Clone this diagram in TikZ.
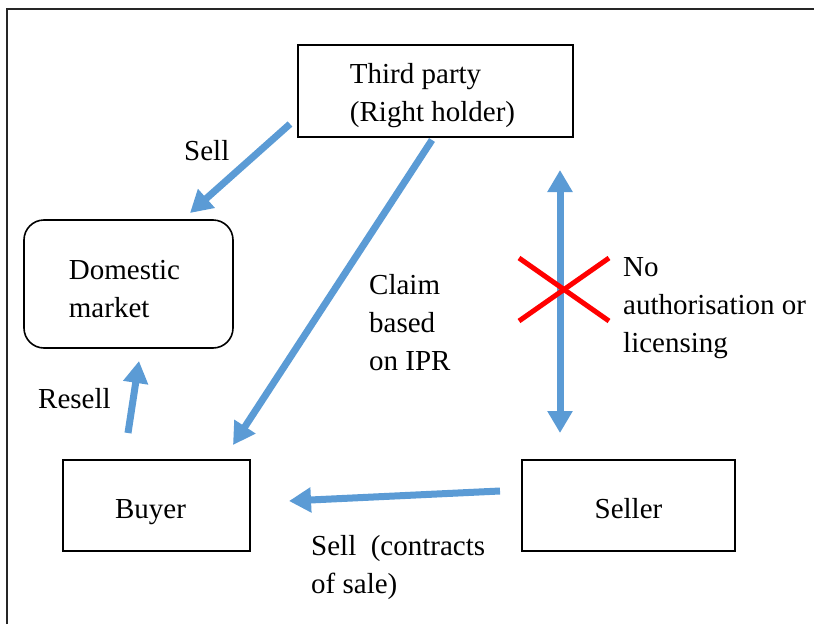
\documentclass[tikz,border=0pt]{standalone}
\usepackage{fontspec}
\setmainfont{Liberation Serif}
\usetikzlibrary{arrows.meta}
\definecolor{arrowblue}{HTML}{5B9BD5}
\definecolor{crossred}{HTML}{FF0000}
\tikzset{
  every node/.style={font=\fontsize{29}{38}\selectfont},
  box/.style={draw=black,line width=1.6pt,inner sep=0pt,align=left},
  lbl/.style={inner sep=0pt,anchor=north west,align=left},
  bigtip/.tip={Triangle[width=24pt,length=22pt]},
  flow/.style={draw=arrowblue,line width=7pt,-bigtip},
  twoway/.style={draw=arrowblue,line width=7pt,bigtip-bigtip},
  cross/.style={draw=crossred,line width=5pt},
  frameline/.style={draw=black!85,line width=2pt}
}
\begin{document}
\begin{tikzpicture}[x=1pt,y=-1pt]
\useasboundingbox (0,0) rectangle (814,624);
\draw[frameline] (7,624) -- (7,9) -- (814,9);

\node[box,minimum width=275pt,minimum height=92pt] (third) at (435.5,91) {\rule{0pt}{29pt}Third party\\(Right holder)\hspace*{6pt}};
\node[box,rounded corners=20pt,minimum width=209pt,minimum height=128pt] (market) at (128.5,284) {\rule{0pt}{29pt}Domestic\hspace*{8pt}\\market};
\node[box,minimum width=187pt,minimum height=91pt,text height=25pt,text depth=0pt] (buyer) at (156.5,505.5) {Buyer\hspace*{12pt}};
\node[box,minimum width=213pt,minimum height=91pt,text height=25pt,text depth=0pt] (seller) at (628.5,505.5) {Seller};

\coordinate (sellA) at (290,124);
\coordinate (sellB) at (190,213);
\coordinate (claimA) at (432,140);
\coordinate (claimB) at (233,445);
\coordinate (authA) at (560,170);
\coordinate (authB) at (560,433);
\coordinate (resellA) at (128,433);
\coordinate (resellB) at (139,361);
\coordinate (saleA) at (500,491);
\coordinate (saleB) at (289,501);
\coordinate (xA) at (519,258);
\coordinate (xB) at (609,321);
\coordinate (xC) at (609,258);
\coordinate (xD) at (519,321);

\draw[flow] (sellA) -- (sellB);
\draw[flow] (claimA) -- (claimB);
\draw[twoway] (authA) -- (authB);
\draw[flow] (resellA) -- (resellB);
\draw[flow] (saleA) -- (saleB);
\draw[cross] (xA) -- (xB);
\draw[cross] (xC) -- (xD);

\node[lbl] (lsell) at (184,140) {Sell};
\node[lbl] (lclaim) at (369,274) {Claim\\based\\on IPR};
\node[lbl] (lno) at (623,257.5) {No\\authorisation or\\licensing};
\node[lbl] (lresell) at (38,388) {Resell};
\node[lbl] (lsale) at (311,535) {Sell~ (contracts\\of sale)};
\end{tikzpicture}
\end{document}
